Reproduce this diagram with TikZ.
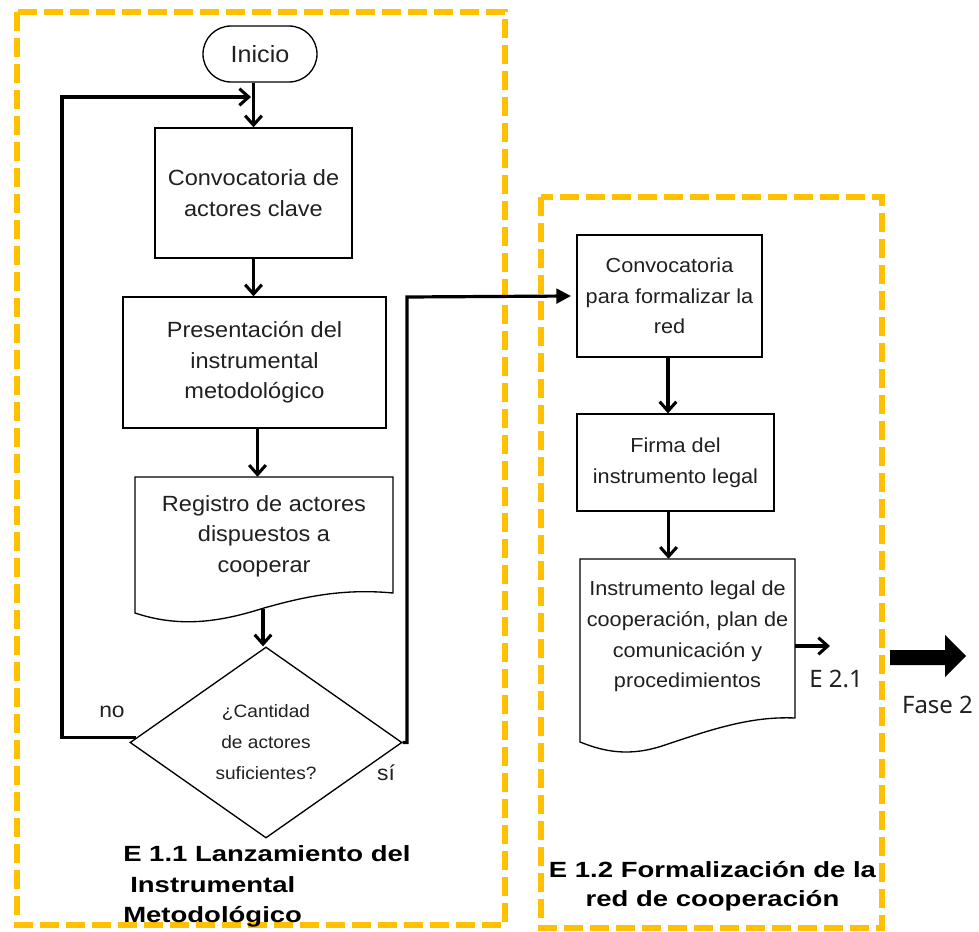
\documentclass[tikz,border=0pt]{standalone}
\usepackage{fontspec}
\setmainfont{Liberation Sans}[FakeStretch=1.07]
\newfontfamily\notofont{Noto Sans}
\newfontfamily\titlefont{Liberation Sans}[FakeStretch=1.25]
\usetikzlibrary{arrows.meta,shapes.geometric,calc}
\definecolor{frameorange}{HTML}{FFC000}
\definecolor{txt}{HTML}{202020}
\begin{document}
\begin{tikzpicture}[x=0.75pt,y=-0.75pt,
  frame/.style={draw=frameorange, line width=3.9pt, dash pattern=on 14.5pt off 5pt},
  box/.style={draw, line width=1pt, rectangle, inner sep=0pt, align=center, text=txt},
  doctext/.style={rectangle, inner sep=0pt, align=center, text=txt},
  docline/.style={draw, line width=1pt},
  leftfont/.style={font=\fontsize{16.5pt}{22.8pt}\selectfont},
  rightfont/.style={font=\fontsize{15.2pt}{22.9pt}\selectfont},
  conn/.style={line width=2.3pt, -{Straight Barb[length=7pt,width=12.5pt]}},
  connfill/.style={line width=2.4pt, -{Triangle[length=11pt,width=11pt]}},
  titletext/.style={inner sep=0pt, font=\titlefont\bfseries\fontsize{16.5pt}{22pt}\selectfont},
  lbl/.style={inner sep=0pt, text=txt, font=\fontsize{16pt}{20pt}\selectfont},
  notolbl/.style={inner sep=0pt, text=txt, font=\notofont\fontsize{18pt}{22pt}\selectfont}
]
\useasboundingbox (0,0) rectangle (979,932);

% frames
\draw[frame] (17,12) rectangle (505,925);
\draw[frame] (541,197) rectangle (882,928);

% left column
\node[box, rounded corners=21pt, minimum width=114*0.75pt, minimum height=56*0.75pt,
      font=\fontsize{17.6pt}{20pt}\selectfont] (inicio) at (260,54) {Inicio};
\node[box, leftfont, minimum width=197*0.75pt, minimum height=130*0.75pt] (b1) at (253.5,193)
  {Convocatoria de\\actores clave};
\node[box, leftfont, minimum width=263*0.75pt, minimum height=131*0.75pt] (b2) at (254.5,362.5)
  {Presentación del\\instrumental\\metodológico};
\draw[docline] (135,477) -- (393,477) -- (393,593)
  .. controls (340,588) and (300,598) .. (264,608)
  .. controls (220,622) and (180,628) .. (135,613) -- cycle;
\node[doctext, leftfont, minimum width=258*0.75pt, minimum height=118*0.75pt] (doc1) at (264,536)
  {Registro de actores\\dispuestos a\\cooperar};
\coordinate (doc1b) at (263,609);
\node[draw, line width=1pt, diamond, aspect=1.42, inner sep=0pt, align=center, text=txt,
      minimum width=272*0.75pt, minimum height=191*0.75pt,
      font=\fontsize{13.4pt}{23.2pt}\selectfont] (dec) at (266,742.5)
  {¿Cantidad\\de actores\\suficientes?};

% right column
\node[box, rightfont, minimum width=185*0.75pt, minimum height=122*0.75pt] (bA) at (669.5,296)
  {Convocatoria\\para formalizar la\\red};
\node[box, rightfont, minimum width=197*0.75pt, minimum height=97*0.75pt] (bB) at (675.5,462.5)
  {Firma del\\instrumento legal};
\draw[docline] (580,559) -- (795,559) -- (795,718)
  .. controls (750,716) and (710,730) .. (665,745)
  .. controls (630,757) and (605,752) .. (580,742) -- cycle;
\node[doctext, rightfont, minimum width=215*0.75pt, minimum height=155*0.75pt] (doc2) at (687.5,636.5)
  {Instrumento legal de\\cooperación, plan de\\comunicación y\\procedimientos};

% connector helper coordinates
\coordinate (loopin) at (251,97);
\coordinate (loopcorner) at (62,500);
\coordinate (sicorner) at (407,297);
\coordinate (e21) at (830,646);
\coordinate (c2) at ($(b2.south)+(3,0)$);
\coordinate (cA) at ($(bA.south)+(-1.5,0)$);
\coordinate (cB) at ($(bB.south)+(-7,0)$);
\coordinate (cdec) at ($(dec.west)!0.05!(dec.north)$);

% connectors
\draw[conn] (b1.north |- inicio.south) -- (b1.north);
\draw[conn] (b1.south) -- (b1.south |- b2.north);
\draw[conn] (c2) -- (c2 |- doc1.north);
\draw[conn] (doc1b) -- (doc1b |- dec.north);
\draw[conn] (cdec) -| (loopcorner) |- (loopin);
\draw[connfill] (dec.east) -| (sicorner) -- ([xshift=-4pt]bA.west);
\draw[conn] (cA) -- (cA |- bB.north);
\draw[conn] (cB) -- (cB |- doc2.north);
\draw[conn] (doc2.east |- e21) -- (e21);

% labels
\node[lbl, anchor=base] (nolbl) at (112,717) {no};
\node[lbl, anchor=base] (silbl) at (386,780) {sí};
\node[notolbl, anchor=base] (e21lbl) at (836,687) {E 2.1};
\node[notolbl, anchor=base] (faselbl) at (937.5,713) {Fase 2};

% fat arrow
\fill[black] (890,650) -- (945,650) -- (945,635) -- (966,656) -- (945,677) -- (945,665) -- (890,665) -- cycle;

% titles
\node[titletext, anchor=base west] (t1a) at (123,861) {E 1.1 Lanzamiento del};
\node[titletext, anchor=base west] (t1b) at (130,892) {Instrumental};
\node[titletext, anchor=base west] (t1c) at (123,922) {Metodológico};
\node[titletext, anchor=base] (t2a) at (712.5,877) {E 1.2 Formalización de la};
\node[titletext, anchor=base] (t2b) at (712.5,906) {red de cooperación};
\end{tikzpicture}
\end{document}
